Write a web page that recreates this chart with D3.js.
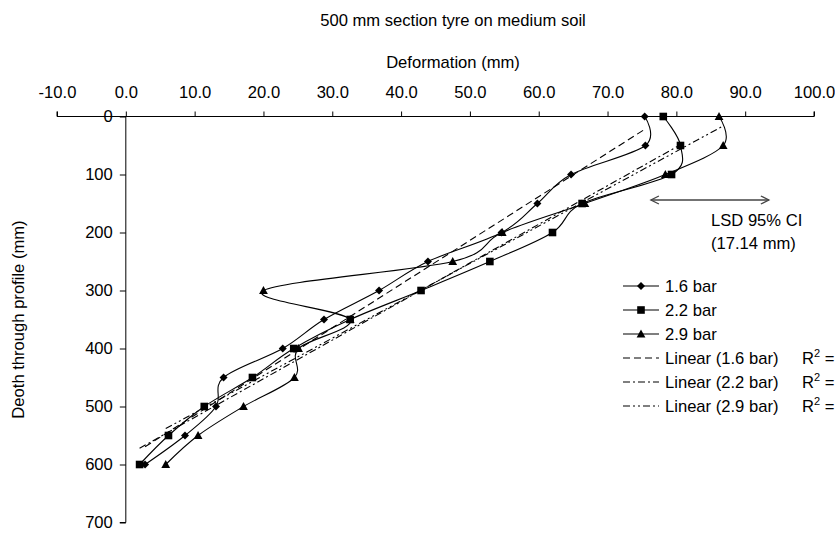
<!DOCTYPE html>
<html>
<head>
<meta charset="utf-8">
<script src="https://cdn.jsdelivr.net/npm/d3@7"></script>
<style>
  body { margin: 0; background: #fff; }
  svg text { font-family: "Liberation Sans", Arial, sans-serif; fill: #000; }
</style>
</head>
<body>
<svg id="chart" width="835" height="534"></svg>
<script>
// Depth below surface (mm) at which deformation was measured
const depths = [0, 50, 100, 150, 200, 250, 300, 350, 400, 450, 500, 550, 600];

// Deformation (mm) for each inflation pressure
const bar16 = [75.4, 75.5, 64.7, 59.8, 54.6, 43.9, 36.8, 28.8, 22.8, 14.2, 13.1, 8.6, 2.8];
const bar22 = [78.1, 80.6, 79.3, 66.3, 62.0, 52.9, 42.9, 32.6, 24.4, 18.4, 11.4, 6.2, 2.0];
const bar29 = [86.2, 86.8, 78.4, 66.7, 54.7, 47.5, 20.0, 32.6, 25.1, 24.5, 17.1, 10.5, 5.8];

const seriesNames = ["1.6 bar", "2.2 bar", "2.9 bar"];
const trendNames = ["Linear (1.6 bar)", "Linear (2.2 bar)", "Linear (2.9 bar)"];

const xTickValues = [-10, 0, 10, 20, 30, 40, 50, 60, 70, 80, 90, 100];
const yTickValues = [0, 100, 200, 300, 400, 500, 600, 700];

// Least significant difference, 95% confidence interval (mm)
const lsd = 17.14;

const svg = d3.select("#chart");

const x = d3.scaleLinear().domain([-10, 100]).range([57, 814]);
const y = d3.scaleLinear().domain([0, 700]).range([116.5, 522.5]);

const FS = 16.6;
const FONT = '"Liberation Sans", Arial, sans-serif';

// Title
svg.append("text").attr("x", 453).attr("y", 26).attr("text-anchor", "middle")
  .style("font-size", FS + "px").text("500 mm section tyre on medium soil");

// Top x axis (plain hyphen for negative values)
const xAxis = d3.axisTop(x).tickValues(xTickValues).tickSize(5).tickPadding(14)
  .tickFormat(d => d.toFixed(1));
const gx = svg.append("g").attr("transform", `translate(0,${y(0)})`).call(xAxis);
gx.select(".domain").attr("d", `M${x(-10)},-5V0H${x(100)}V-5`);
gx.selectAll("text").style("font-size", FS + "px").style("font-family", FONT);

svg.append("text").attr("x", 453).attr("y", 68).attr("text-anchor", "middle")
  .style("font-size", FS + "px").text("Deformation (mm)");

// Left y axis crossing at zero deformation
const yAxis = d3.axisLeft(y).tickValues(yTickValues).tickSize(6).tickPadding(7)
  .tickFormat(d3.format("d"));
const gy = svg.append("g").attr("transform", `translate(${x(0)},0)`).call(yAxis);
gy.select(".domain").attr("d", `M0,${y(0)}V${y(700)}H-6`);
gy.selectAll("text").style("font-size", FS + "px").style("font-family", FONT);

svg.append("text")
  .attr("transform", `translate(24,${(y(0) + y(700)) / 2}) rotate(-90)`)
  .attr("text-anchor", "middle")
  .style("font-size", FS + "px").text("Deoth through profile (mm)");

svg.selectAll(".domain, .tick line").attr("stroke", "#000").attr("stroke-width", 1);

// Marker shapes
const markers = [
  "M0,-4L4,0L0,4L-4,0Z",
  "M-3.8,-3.8H3.8V3.8H-3.8Z",
  "M0,-4.6L4.4,3.4H-4.4Z"
];
const dashes = ["7,4", "7,3,2,3", "7,3,2,3,2,3"];

const allSeries = [bar16, bar22, bar29];

const line = d3.line().x(d => x(d[0])).y(d => y(d[1])).curve(d3.curveCardinal.tension(0));

// Least-squares trendline of depth on deformation, over the observed deformation range
function trend(vals) {
  const n = vals.length;
  const mx = d3.mean(vals), my = d3.mean(depths);
  let sxy = 0, sxx = 0;
  for (let i = 0; i < n; i++) {
    sxy += (vals[i] - mx) * (depths[i] - my);
    sxx += (vals[i] - mx) * (vals[i] - mx);
  }
  const b = sxy / sxx, a = my - b * mx;
  const x0 = d3.min(vals), x1 = d3.max(vals);
  return [[x0, a + b * x0], [x1, a + b * x1]];
}

const plot = svg.append("g");

allSeries.forEach((vals, i) => {
  const pts = vals.map((v, j) => [v, depths[j]]);
  plot.append("path").attr("d", line(pts))
    .attr("fill", "none").attr("stroke", "#000").attr("stroke-width", 1.1);
  plot.selectAll(null).data(pts).enter().append("path")
    .attr("d", markers[i])
    .attr("transform", d => `translate(${x(d[0])},${y(d[1])})`)
    .attr("fill", "#000");
});

allSeries.forEach((vals, i) => {
  const t = trend(vals);
  plot.append("line")
    .attr("x1", x(t[0][0])).attr("y1", y(t[0][1]))
    .attr("x2", x(t[1][0])).attr("y2", y(t[1][1]))
    .attr("stroke", "#000").attr("stroke-width", 1.1)
    .attr("stroke-dasharray", dashes[i]);
});

// LSD annotation
const lsdLeft = 76.3, lsdY = 144;
const ax0 = x(lsdLeft), ax1 = x(lsdLeft + lsd), ay = y(lsdY);
const arrow = svg.append("g").attr("stroke", "#444").attr("stroke-width", 1.3).attr("fill", "none");
arrow.append("line").attr("x1", ax0).attr("x2", ax1).attr("y1", ay).attr("y2", ay);
arrow.append("path").attr("d", `M${ax0 + 8},${ay - 4}L${ax0},${ay}L${ax0 + 8},${ay + 4}`);
arrow.append("path").attr("d", `M${ax1 - 8},${ay - 4}L${ax1},${ay}L${ax1 - 8},${ay + 4}`);
svg.append("text").attr("x", 711).attr("y", 226).style("font-size", FS + "px").text("LSD 95% CI");
svg.append("text").attr("x", 711).attr("y", 249).style("font-size", FS + "px").text(`(${lsd.toFixed(2)} mm)`);

// Legend
const lg = svg.append("g");
const lx0 = 623, lx1 = 659, ltx = 665, ly0 = 286, ldy = 24;
seriesNames.forEach((name, i) => {
  const yy = ly0 + i * ldy;
  lg.append("line").attr("x1", lx0).attr("x2", lx1).attr("y1", yy).attr("y2", yy)
    .attr("stroke", "#000").attr("stroke-width", 1.1);
  lg.append("path").attr("d", markers[i]).attr("transform", `translate(${(lx0 + lx1) / 2},${yy})`).attr("fill", "#000");
  lg.append("text").attr("x", ltx).attr("y", yy + 6).style("font-size", FS + "px").text(name);
});
trendNames.forEach((name, i) => {
  const yy = ly0 + (i + 3) * ldy;
  lg.append("line").attr("x1", lx0).attr("x2", lx1).attr("y1", yy).attr("y2", yy)
    .attr("stroke", "#000").attr("stroke-width", 1.1).attr("stroke-dasharray", dashes[i]);
  lg.append("text").attr("x", ltx).attr("y", yy + 6).style("font-size", FS + "px").text(name);
  const r = lg.append("text").attr("x", 802).attr("y", yy + 6).style("font-size", FS + "px");
  r.append("tspan").text("R");
  r.append("tspan").attr("dy", -7).style("font-size", "11px").text("2");
  r.append("tspan").attr("dy", 7).text(" =");
});
</script>
</body>
</html>
